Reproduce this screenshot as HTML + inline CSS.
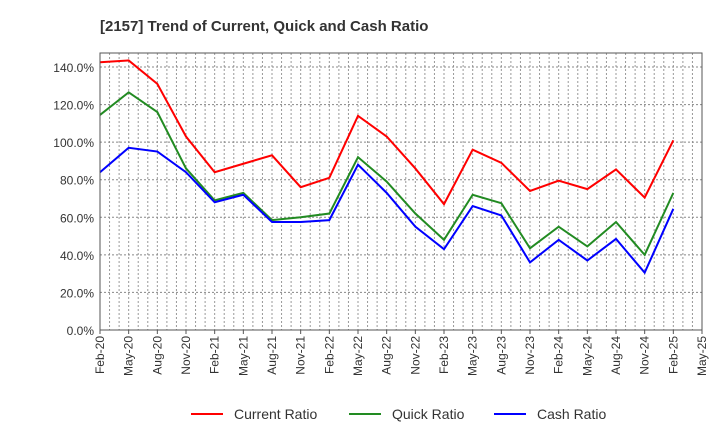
<!DOCTYPE html>
<html><head><meta charset="utf-8"><style>
body{margin:0;background:#fff;font-family:"Liberation Sans",sans-serif}
svg{display:block}
</style></head><body>
<svg id="c" width="720" height="440" xmlns="http://www.w3.org/2000/svg">
<text x="100" y="31" font-size="15" font-weight="bold" fill="#333">[2157]  Trend of Current, Quick and Cash Ratio</text>
<g id="grid"></g><g id="series"></g><g id="axes"></g>
<g>
<line x1="191" y1="414" x2="223" y2="414" stroke="#f00" stroke-width="2"/>
<text x="234" y="419" font-size="14" fill="#333">Current Ratio</text>
<line x1="349" y1="414" x2="381" y2="414" stroke="#228b22" stroke-width="2"/>
<text x="392" y="419" font-size="14" fill="#333">Quick Ratio</text>
<line x1="494" y1="414" x2="526" y2="414" stroke="#00f" stroke-width="2"/>
<text x="537" y="419" font-size="14" fill="#333">Cash Ratio</text>
</g>
</svg>
<script>
const xLabels=["Feb-20","May-20","Aug-20","Nov-20","Feb-21","May-21","Aug-21","Nov-21","Feb-22","May-22","Aug-22","Nov-22","Feb-23","May-23","Aug-23","Nov-23","Feb-24","May-24","Aug-24","Nov-24","Feb-25","May-25"];
const yTicks=[0,20,40,60,80,100,120,140];
const currentRatio=[142.5,143.5,131,103,84,88.5,93,76,81,114,103,86,67,96,89,74,79.5,75,85.5,70.5,101];
const quickRatio=[114.5,126.5,116,86,69,73,58.5,60,62,92,79,62,48,72,67.5,43.5,55,44.5,57.5,40,73];
const cashRatio=[84,97,95,84,68,72,57.5,57.5,58.5,88,73,55,43,66,61,36,48,37,48.5,30.5,64.5];
const L=100,R=702,T=53,B=330;
const xq=i=>L+(R-L)*i/21;
const y=v=>B-(B-67)*v/140;
const NS="http://www.w3.org/2000/svg";
function mk(p,t,a){const e=document.createElementNS(NS,t);for(const k in a)e.setAttribute(k,a[k]);p.appendChild(e);return e;}
const g=document.getElementById('grid'),s=document.getElementById('series'),ax=document.getElementById('axes');
for(let m=1;m<63;m++){const x=L+(R-L)*m/63;
const l=mk(g,'line',{x1:x,x2:x,y1:T,y2:B,stroke:'#999','stroke-dasharray':'2,2','stroke-width':1});

}
yTicks.forEach(v=>{const l=mk(g,'line',{x1:L,x2:R,y1:y(v),y2:y(v),stroke:'#888','stroke-dasharray':'2,2','stroke-width':1});


const t=mk(ax,'text',{x:L-6,y:y(v)+5,'text-anchor':'end','font-size':12,fill:'#333'});t.textContent=v.toFixed(1)+'%';

});
const fr=mk(ax,'rect',{x:L,y:T,width:R-L,height:B-T,fill:'none',stroke:'#555','stroke-width':1});


xLabels.forEach((lb,i)=>{const x=xq(i);mk(ax,'line',{x1:x,x2:x,y1:B,y2:B+4,stroke:'#555'});
const t=mk(ax,'text',{transform:`translate(${x+4},${B+6}) rotate(-90)`,'text-anchor':'end','font-size':12,fill:'#333'});t.textContent=lb;

});
[[currentRatio,'#f00','current-ratio-line'],[quickRatio,'#228b22','quick-ratio-line'],[cashRatio,'#00f','cash-ratio-line']].forEach(([d,c,n])=>{
const p=mk(s,'polyline',{points:d.map((v,i)=>xq(i)+','+y(v)).join(' '),fill:'none',stroke:c,'stroke-width':2});

});
</script>
</body></html>
